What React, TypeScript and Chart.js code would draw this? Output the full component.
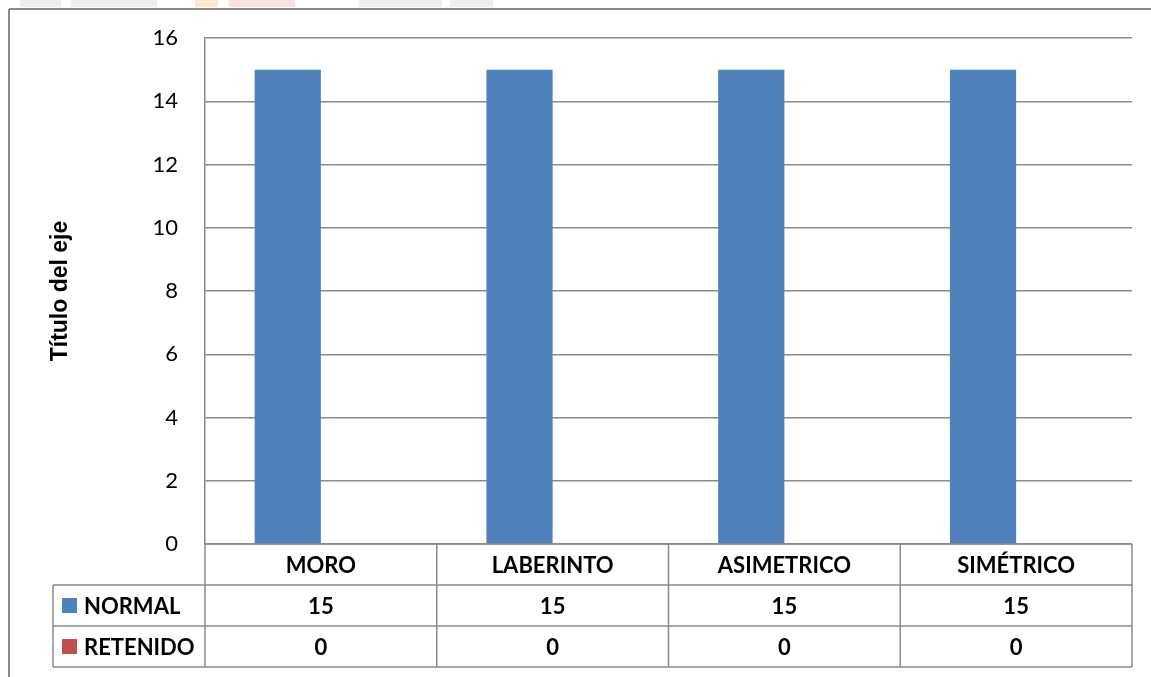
import React, { useEffect, useRef } from "react";
import { Chart, registerables } from "chart.js";

Chart.register(...registerables);

const categories = ["MORO", "LABERINTO", "ASIMETRICO", "SIMÉTRICO"];
const seriesNames = ["NORMAL", "RETENIDO"];
const normalValues = [15, 15, 15, 15];
const retenidoValues = [0, 0, 0, 0];
const yMin = 0;
const yMax = 16;
const yStep = 2;
const axisTitle = "Título del eje";

const BLUE = "#4f81bd";
const RED = "#c0504d";
const GRID = "#8a8a8a";
const FONT = "Lato, 'Open Sans', sans-serif";
const TITLE_FONT = "'Liberation Sans', Arial, sans-serif";

const tablePlugin = {
  id: "dataTable",
  afterDraw(chart: any) {
    const ctx = chart.ctx as CanvasRenderingContext2D;
    const { left, right, top, bottom } = chart.chartArea;
    const xScale = chart.scales.x;
    const n = categories.length;
    const colW = (right - left) / n;
    const rowH = 41;
    const legendLeft = 53;
    const rows = [bottom, bottom + rowH, bottom + 2 * rowH, bottom + 3 * rowH];
    ctx.save();
    ctx.strokeStyle = GRID;
    ctx.lineWidth = 1.5;
    const line = (x1: number, y1: number, x2: number, y2: number) => {
      ctx.beginPath();
      ctx.moveTo(x1, y1);
      ctx.lineTo(x2, y2);
      ctx.stroke();
    };
    line(left, rows[0], right, rows[0]);
    for (let i = 1; i < rows.length; i++) line(legendLeft, rows[i], right, rows[i]);
    line(legendLeft, rows[1], legendLeft, rows[3]);
    for (let j = 0; j <= n; j++) line(left + j * colW, rows[0], left + j * colW, rows[3]);

    ctx.fillStyle = "#000";
    ctx.font = `bold 22px ${FONT}`;
    ctx.textAlign = "center";
    ctx.textBaseline = "middle";
    categories.forEach((c, i) => {
      const x = xScale.getPixelForValue(i);
      ctx.fillText(c, x, (rows[0] + rows[1]) / 2 + 1);
      ctx.fillText(String(normalValues[i]), x, (rows[1] + rows[2]) / 2 + 1);
      ctx.fillText(String(retenidoValues[i]), x, (rows[2] + rows[3]) / 2 + 1);
    });

    // legend keys
    const keyColors = [BLUE, RED];
    ctx.textAlign = "left";
    seriesNames.forEach((s, i) => {
      const cy = (rows[i + 1] + rows[i + 2]) / 2;
      ctx.fillStyle = keyColors[i];
      ctx.fillRect(62, cy - 7.5, 15, 15);
      ctx.fillStyle = "#000";
      ctx.fillText(s, 84, cy + 1);
    });

    // axis title
    ctx.save();
    ctx.translate(61, (top + bottom) / 2);
    ctx.rotate(-Math.PI / 2);
    ctx.textAlign = "center";
    ctx.textBaseline = "middle";
    ctx.font = `bold 23px ${TITLE_FONT}`;
    ctx.fillText(axisTitle, 0, 0);
    ctx.restore();

    // outer chart border
    ctx.strokeStyle = GRID;
    ctx.lineWidth = 2;
    line(9, 9, 1151, 9);
    line(9, 9, 9, 677);
    ctx.restore();
  },
};

const watermark = [
  { left: 20, width: 41, color: "#eeeef1" },
  { left: 71, width: 86, color: "#eeeef1" },
  { left: 195, width: 23, color: "#fde9d2" },
  { left: 229, width: 66, color: "#fbe3e3" },
  { left: 359, width: 83, color: "#eeeef1" },
  { left: 450, width: 43, color: "#eeeef1" },
];

export default function App() {
  const ref = useRef<HTMLCanvasElement>(null);
  useEffect(() => {
    if (!ref.current) return;
    const chart = new Chart(ref.current, {
      type: "bar",
      data: {
        labels: categories,
        datasets: [
          { label: seriesNames[0], data: normalValues, backgroundColor: BLUE, categoryPercentage: 2 / 3.5, barPercentage: 1 },
          { label: seriesNames[1], data: retenidoValues, backgroundColor: RED, categoryPercentage: 2 / 3.5, barPercentage: 1 },
        ],
      },
      options: {
        responsive: false,
        animation: false,
        layout: { padding: { left: 8, top: 38, right: 19, bottom: 133 } },
        plugins: { legend: { display: false }, tooltip: { enabled: false }, title: { display: false } },
        scales: {
          x: { display: false },
          y: {
            min: yMin,
            max: yMax,
            ticks: { stepSize: yStep, color: "#000", padding: 27, font: { family: FONT, size: 22 } },
            grid: { color: GRID, lineWidth: 1.5, drawTicks: false },
            border: { display: true, color: GRID, width: 1.5 },
            afterFit: (scale: any) => {
              scale.width = 197;
              scale.paddingTop = 0;
              scale.paddingBottom = 0;
            },
          },
        },
      },
      plugins: [tablePlugin],
    });
    return () => chart.destroy();
  }, []);
  return (
    <div style={{ position: "fixed", left: 0, top: 0, width: 1151, height: 677, background: "#fff" }}>
      {watermark.map((w, i) => (
        <div key={i} style={{ position: "absolute", top: 0, height: 7, left: w.left, width: w.width, background: w.color }} />
      ))}
      <canvas ref={ref} width={1151} height={677} style={{ position: "absolute", left: 0, top: 0, width: 1151, height: 677 }} />
    </div>
  );
}
